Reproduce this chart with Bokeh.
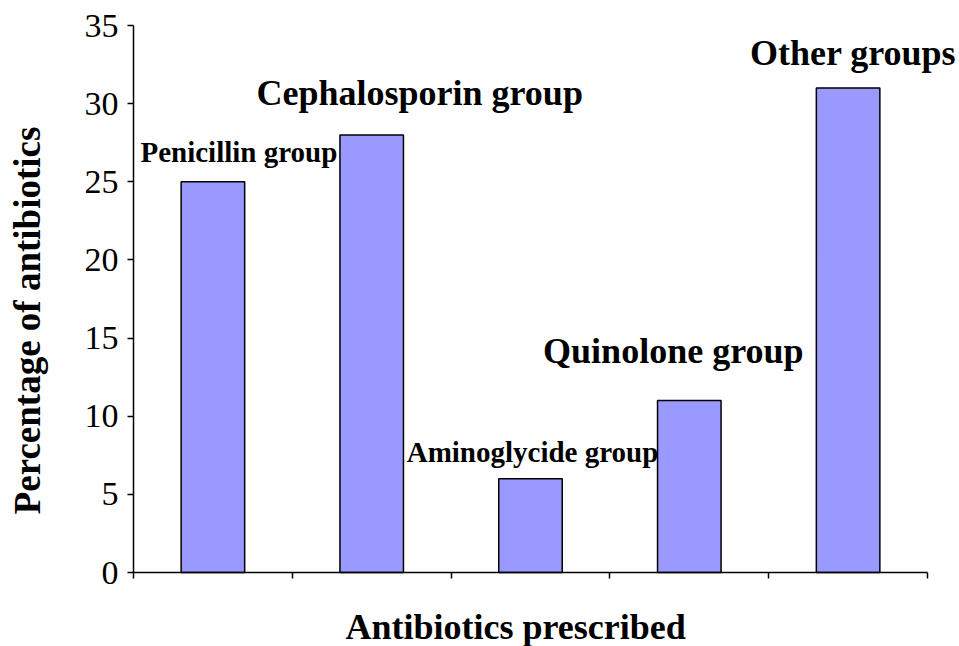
import math
from bokeh.plotting import figure
from bokeh.models import Label, FixedTicker, Range1d
from bokeh.embed import file_html
from bokeh.resources import INLINE

groups = ["Penicillin group", "Cephalosporin group", "Aminoglycide group",
          "Quinolone group", "Other groups"]
percentages = [25, 28, 6, 11, 31]
y_ticks = [0, 5, 10, 15, 20, 25, 30, 35]
y_max = 35
x_title = "Antibiotics prescribed"
y_title = "Percentage of antibiotics"

# label style (pixel offsets from bar top centre, font sizes)
label_dx = [26, 48, 2, -16, 5]
label_dy = [30, 42, 27, 50, 35]
label_size = ["29px", "36px", "29px", "36px", "36px"]

font = "Liberation Serif"
n = len(groups)
xc = [i + 0.5 for i in range(n)]

# layout: pixel margins around the axes area
W, H = 959, 646
left_px, right_px, top_px, bottom_px = 133, 32, 25, 74
px_x = (W - left_px - right_px) / n
px_y = (H - top_px - bottom_px) / y_max

p = figure(width=W, height=H, output_backend="svg", toolbar_location=None,
           x_range=Range1d(-left_px / px_x, n + right_px / px_x),
           y_range=Range1d(-bottom_px / px_y, y_max + top_px / px_y),
           min_border=0)
p.outline_line_color = None
p.xgrid.visible = False
p.ygrid.visible = False

p.vbar(x=xc, top=percentages, width=0.4, bottom=0,
       fill_color="#9999FF", line_color="black", line_width=1.5)

for x, top, txt, dx, dy, sz in zip(xc, percentages, groups, label_dx, label_dy, label_size):
    p.add_layout(Label(x=x, y=top, text=txt, x_offset=dx, y_offset=dy,
                       text_align="center", text_baseline="alphabetic",
                       text_font=font, text_font_style="bold",
                       text_font_size=sz, text_color="black"))

# axis titles
p.add_layout(Label(x=0, y=0, x_offset=-106, y_offset=252, angle=math.pi / 2,
                   text=y_title, text_align="center", text_baseline="alphabetic",
                   text_font=font, text_font_style="bold", text_font_size="37px",
                   text_color="black"))
p.add_layout(Label(x=0, y=0, x_offset=212, y_offset=-54,
                   text=x_title, text_align="left", text_baseline="alphabetic",
                   text_font=font, text_font_style="bold", text_font_size="36px",
                   text_color="black"))

p.yaxis.fixed_location = 0
p.yaxis.bounds = (0, y_max)
p.yaxis.ticker = FixedTicker(ticks=y_ticks)
p.yaxis.major_label_text_font = font
p.yaxis.major_label_text_font_size = "34px"
p.yaxis.major_label_standoff = 9
p.yaxis.major_tick_out = 6
p.yaxis.major_tick_in = 0
p.yaxis.minor_tick_line_color = None
p.yaxis.axis_line_width = 1.5
p.yaxis.major_tick_line_width = 1.5
p.yaxis.axis_line_color = "black"
p.yaxis.major_tick_line_color = "black"
p.yaxis.major_label_text_color = "black"

p.xaxis.fixed_location = 0
p.xaxis.ticker = FixedTicker(ticks=[], minor_ticks=list(range(n + 1)))
p.xaxis.bounds = (0, n)
p.xaxis.minor_tick_out = 6
p.xaxis.minor_tick_in = 0
p.xaxis.minor_tick_line_width = 1.5
p.xaxis.minor_tick_line_color = "black"
p.xaxis.axis_line_width = 1.5
p.xaxis.axis_line_color = "black"

open("out.html", "w").write(file_html(p, INLINE))
